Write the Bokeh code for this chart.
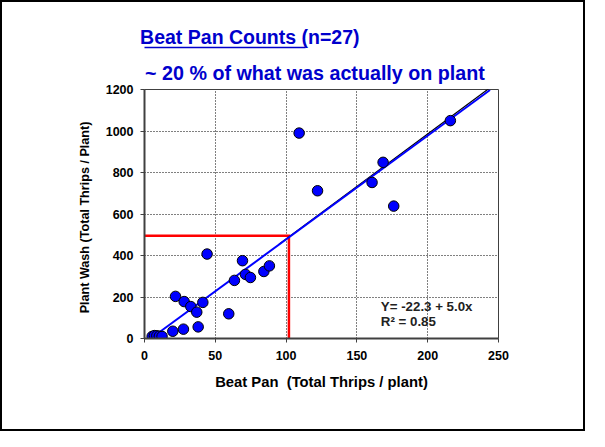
from bokeh.plotting import figure
from bokeh.models import Range1d, Label, FixedTicker, Title, LinearAxis
from bokeh.embed import file_html
from bokeh.resources import INLINE

# ---- data ----
beat_pan = [5.4, 7.0, 8.7, 10.5, 12.4, 20.0, 27.5, 37.9, 21.9, 28.0, 32.7, 36.9, 41.2,
            44.2, 59.5, 63.5, 69.2, 71.3, 74.8, 84.3, 88.2, 109.2, 122.2, 160.7, 168.5,
            176.0, 216.0]
plant_wash = [10, 14, 13, 11, 10, 35, 45, 56, 203, 178, 154, 127, 174,
              407, 119, 280, 375, 309, 294, 323, 350, 990, 712, 752, 849,
              638, 1050]

fit_intercept = -22.3
fit_slope = 5.0
fit_x = [9, 244]
fit2_intercept = -26.0
fit2_slope = 5.06
fit2_x = [95, 244]
ref_x = 102
ref_y = 495

x_ticks = [0, 50, 100, 150, 200, 250]
y_ticks = [0, 200, 400, 600, 800, 1000, 1200]
underline_span = (-1.9, 113.5)

title1 = "Beat Pan Counts (n=27)"
title2 = "~ 20 % of what was actually on plant"
x_label = "Beat Pan  (Total Thrips / plant)"
y_label = "Plant Wash (Total Thrips / Plant)"
eq_text = "Y= -22.3 + 5.0x"
r2_text = "R\u00b2 = 0.85"

FONT = "Liberation Sans"
BLUE_T = "#0000CC"
NB = "\u00a0"

p = figure(width=585, height=431, output_backend="svg", toolbar_location=None,
           title=None,
           x_range=Range1d(0, 250), y_range=Range1d(0, 1200),
           min_border_left=142, min_border_right=89, min_border_top=87,
           min_border_bottom=95,
           styles={"border": "2px solid black"})

p.outline_line_color = "#404040"
p.outline_line_width = 1

for ax in (p.xaxis[0], p.yaxis[0]):
    ax.axis_line_color = "#404040"
    ax.axis_line_width = 2
    ax.major_tick_line_color = "#404040"
    ax.major_tick_out = 4
    ax.major_tick_in = 0
    ax.minor_tick_out = 0
    ax.minor_tick_in = 0
    ax.major_label_text_font = FONT
    ax.major_label_text_font_style = "bold"
    ax.major_label_text_font_size = "12.5px"
    ax.major_label_text_color = "black"
    ax.axis_label_text_font = FONT
    ax.axis_label_text_font_style = "bold"
    ax.axis_label_text_color = "black"

p.xaxis.axis_label_text_font_size = "14.8px"
p.yaxis.axis_label_text_font_size = "12.6px"
p.xaxis.ticker = FixedTicker(ticks=x_ticks)
p.yaxis.ticker = FixedTicker(ticks=y_ticks)
p.xaxis.major_label_standoff = 8
p.yaxis.major_label_standoff = 7
p.xaxis.axis_label = x_label.replace("  ", " " + NB)
p.yaxis.axis_label = y_label + NB * 2
p.xaxis.axis_label_standoff = 11
p.yaxis.axis_label_standoff = 11

for g in (p.xgrid[0], p.ygrid[0]):
    g.grid_line_color = "black"
    g.grid_line_dash = "1 2"
    g.grid_line_width = 1
p.xgrid.ticker = FixedTicker(ticks=x_ticks[1:-1])
p.ygrid.ticker = FixedTicker(ticks=y_ticks[1:-1])

# reference lines
p.line([0, ref_x, ref_x], [ref_y, ref_y, 0], line_color="#FF0000", line_width=2.5,
       line_join="miter")

# fitted lines
p.line(fit2_x, [fit2_intercept + fit2_slope * v for v in fit2_x], line_color="black",
       line_width=1.2)
p.line(fit_x, [fit_intercept + fit_slope * v for v in fit_x], line_color="#0000FF",
       line_width=2)

# points
p.scatter(beat_pan, plant_wash, size=10.5, fill_color="#0000FF", line_color="black",
          line_width=1)

# equation text
p.add_layout(Label(x=166.9, y=118, text=eq_text, text_font=FONT, text_font_style="bold",
                   text_font_size="13.3px", text_color="#222222"))
p.add_layout(Label(x=166.9, y=45, text=r2_text, text_font=FONT, text_font_style="bold",
                   text_font_size="13.3px", text_color="#222222"))

# titles stacked above the frame (first added = nearest the frame)
t2 = Title(text=title2, align="left", offset=0.6, text_font=FONT,
           text_font_style="bold", text_font_size="19.7px", text_color=BLUE_T,
           standoff=11, padding=dict(left=0, right=0, top=7, bottom=0))
p.add_layout(t2, "above")

ul = LinearAxis(bounds=underline_span, ticker=FixedTicker(ticks=[]),
                axis_line_color=BLUE_T, axis_line_width=1.5,
                major_tick_out=0, major_tick_in=0, minor_tick_out=0, minor_tick_in=0,
                major_label_text_font_size="0px", major_label_standoff=0,
                axis_label_standoff=0)
p.add_layout(ul, "above")

t1 = Title(text=title1, align="left", offset=-4.4, text_font=FONT,
           text_font_style="bold", text_font_size="19.5px", text_color=BLUE_T,
           standoff=0)
p.add_layout(t1, "above")

open("out.html", "w").write(file_html(p, INLINE))
